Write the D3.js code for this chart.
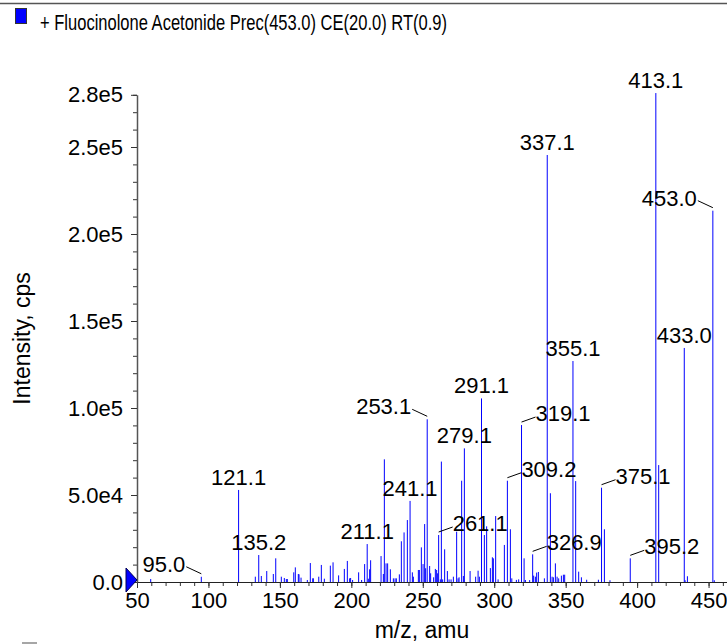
<!DOCTYPE html>
<html>
<head>
<meta charset="utf-8">
<script src="https://cdn.jsdelivr.net/npm/d3@7"></script>
<style>
	body { margin: 0; background: #fff; }
	text { font-family: "Liberation Sans", Arial, sans-serif; fill: #000; }
	.tick text { font-size: 22px; }
	.peaklabel { font-size: 22px; }
	.charttitle { font-size: 22px; }
	.axistitle { font-size: 23px; }
	.leader { stroke: #000; stroke-width: 1; fill: none; }
	.peak { stroke: #0000ff; stroke-width: 1; }
</style>
</head>
<body>
<svg class="spectrum"></svg>
<script>
// Spectrum peaks (m/z, intensity in cps)
var peakMz = [59.6, 95.0, 121.1, 132.8, 135.2, 137.0, 140.8, 145.4, 147.1, 151.0,
	153.1, 154.5, 155.2, 159.7, 160.8, 162.9, 163.4, 164.8, 169.2, 171.3,
	173.0, 173.4, 177.2, 179.0, 181.1, 185.3, 187.2, 191.1, 195.1, 197.2,
	198.8, 199.5, 200.9, 205.1, 207.2, 209.3, 211.1, 211.9, 212.8, 213.5,
	220.8, 222.4, 223.1, 224.3, 225.4, 227.3, 229.4, 230.6, 231.5, 233.6,
	235.0, 236.9, 239.2, 241.1, 242.7, 243.4, 246.9, 247.6, 249.0, 250.2,
	251.3, 252.0, 253.1, 254.8, 255.5, 257.6, 258.8, 259.7, 260.4, 261.1,
	262.3, 263.0, 263.9, 265.3, 267.2, 268.4, 269.8, 271.4, 273.7, 274.7,
	275.4, 277.2, 278.4, 279.1, 283.1, 287.0, 288.7, 289.6, 291.1, 293.1,
	294.7, 297.3, 298.7, 299.4, 301.0, 302.7, 307.1, 309.2, 311.3, 312.3,
	315.5, 317.1, 319.1, 320.9, 321.8, 324.8, 326.9, 327.6, 328.8, 329.7,
	330.9, 335.1, 337.1, 339.3, 340.5, 341.4, 342.8, 344.0, 345.1, 347.0,
	348.4, 349.3, 355.1, 357.0, 359.1, 361.0, 364.7, 372.9, 375.1, 377.1,
	381.0, 395.2, 413.1, 415.1, 433.0, 433.6, 435.2, 453.0, 454.0];
var peakIntensity = [1700, 3000, 52900, 3050, 15500, 3450, 6300, 4600, 13600, 3050,
	2300, 1700, 1700, 5550, 8400, 4600, 4400, 2500, 1150, 10900,
	2100, 2100, 3050, 9800, 1900, 9400, 11300, 3800, 7500, 12100,
	2100, 2300, 1150, 5550, 1150, 10300, 21800, 1900, 7300, 12500,
	14900, 4600, 70500, 10700, 10700, 7300, 2100, 2100, 2100, 4400,
	23400, 28500, 35600, 46600, 5550, 3050, 6900, 6900, 19900, 10300,
	33300, 7900, 93500, 9200, 5000, 2700, 7500, 6900, 5000, 27000,
	1500, 69200, 1500, 18800, 6300, 1500, 1500, 3050, 28900, 2100,
	2700, 58200, 3450, 76800, 6300, 3050, 6500, 3050, 105500, 27000,
	32000, 8000, 14200, 13600, 37900, 1500, 21300, 58200, 30300, 2100,
	1200, 1500, 90200, 13600, 1150, 1100, 15900, 3650, 3050, 5400,
	5750, 2100, 245400, 51000, 3050, 2700, 10700, 3050, 2100, 3650,
	4200, 4200, 127000, 58000, 5950, 2700, 1300, 1300, 54200, 30300,
	1000, 13600, 281000, 67200, 134500, 1000, 3300, 213400, 1000];

// Annotated peaks; side: 0 = centred above, -1 = label left with leader, 1 = label right with leader
var labelMz = [95.0, 121.1, 135.2, 211.1, 241.1, 253.1, 261.1, 279.1, 291.1, 309.2,
	319.1, 326.9, 337.1, 355.1, 375.1, 395.2, 413.1, 433.0, 453.0];
var labelSide = [-1, 0, 0, 0, 0, -1, 1, 0, 0, 1,
	1, 1, 0, 0, 1, 1, 0, 0, -1];

var xTicks = [50, 100, 150, 200, 250, 300, 350, 400, 450];
var yTicks = [0, 50000, 100000, 150000, 200000, 250000, 280000];
var yTickLabels = ["0.0", "5.0e4", "1.0e5", "1.5e5", "2.0e5", "2.5e5", "2.8e5"];

var titleText = "+ Fluocinolone Acetonide Prec(453.0) CE(20.0) RT(0.9)";

function drawSpectrum() {
	var totalWidth = 727, totalHeight = 644;
	var left = 137, right = 727, top = 94.8, bottom = 582;

	var svg = d3.select(".spectrum")
		.attr("width", totalWidth)
		.attr("height", totalHeight);

	var x = d3.scaleLinear()
		.domain([50, 462.9])
		.range([left, right]);

	var y = d3.scaleLinear()
		.domain([0, 280000])
		.range([bottom, top]);

	// top frame line
	svg.append("line")
		.attr("x1", 0).attr("x2", totalWidth)
		.attr("y1", 3.5).attr("y2", 3.5)
		.attr("stroke", "#555").attr("stroke-width", 1.5);

	// legend square + title (narrow face, squeezed to the reference width)
	svg.append("rect")
		.attr("x", 15.5).attr("y", 8.5)
		.attr("width", 11).attr("height", 15)
		.attr("fill", "#0000ff").attr("stroke", "#333");
	svg.append("text")
		.attr("class", "charttitle")
		.attr("x", 40).attr("y", 30)
		.attr("textLength", 407)
		.attr("lengthAdjust", "spacingAndGlyphs")
		.text(titleText);

	// cut-off legend square at bottom
	svg.append("line")
		.attr("x1", 22).attr("x2", 37)
		.attr("y1", 643).attr("y2", 643)
		.attr("stroke", "#888").attr("stroke-width", 1.5);

	// minor ticks
	var xMinor = d3.range(50, 461, 10);
	var yMinor = d3.range(0, 280001, 10000);

	svg.append("g")
		.attr("class", "x minor")
		.attr("transform", "translate(0," + bottom + ")")
		.call(d3.axisBottom(x).tickValues(xMinor).tickSize(4).tickFormat(""))
		.call(function(g) { g.select(".domain").remove(); });

	svg.append("g")
		.attr("class", "y minor")
		.attr("transform", "translate(" + left + ",0)")
		.call(d3.axisLeft(y).tickValues(yMinor).tickSize(4).tickFormat(""))
		.call(function(g) { g.select(".domain").remove(); });

	// Add the x axis
	svg.append("g")
		.attr("class", "x axis")
		.attr("transform", "translate(0," + bottom + ")")
		.call(d3.axisBottom(x).tickValues(xTicks).tickSize(6).tickPadding(4).tickSizeOuter(0));

	// Add the y axis
	var yAxis = svg.append("g")
		.attr("class", "y axis")
		.attr("transform", "translate(" + left + ",0)")
		.call(d3.axisLeft(y).tickValues(yTicks).tickSize(6).tickPadding(8).tickSizeOuter(0)
			.tickFormat(function(d, i) { return yTickLabels[i]; }));

	svg.selectAll(".axis .domain").attr("stroke", "#222");
	svg.selectAll(".tick line").attr("stroke", "#333");
	yAxis.select(".domain").attr("stroke", "#555").attr("stroke-width", 1.5);

	// Axis titles
	svg.append("text")
		.attr("class", "axistitle")
		.attr("transform", "rotate(-90)")
		.attr("x", -(top + bottom) / 2)
		.attr("y", 30)
		.attr("text-anchor", "middle")
		.text("Intensity, cps");

	svg.append("text")
		.attr("class", "axistitle")
		.attr("x", 422)
		.attr("y", 638)
		.attr("text-anchor", "middle")
		.text("m/z, amu");

	// Draw peaks
	var peaks = peakMz.map(function(m, i) { return {mz: m, value: peakIntensity[i]}; });
	svg.selectAll(".peak")
		.data(peaks)
	  .enter().append("line")
		.attr("class", "peak")
		.attr("x1", function(d) { return x(d.mz); })
		.attr("x2", function(d) { return x(d.mz); })
		.attr("y1", y(0))
		.attr("y2", function(d) { return y(d.value); });

	// Peak labels
	labelMz.forEach(function(m, i) {
		var idx = peakMz.indexOf(m);
		var px = x(m), py = y(peakIntensity[idx]);
		var side = labelSide[i];
		var txt = m.toFixed(1);
		if (side === 0) {
			svg.append("text").attr("class", "peaklabel")
				.attr("x", px).attr("y", py - 5)
				.attr("text-anchor", "middle").text(txt);
		} else if (side < 0) {
			svg.append("line").attr("class", "leader")
				.attr("x1", px - 15).attr("y1", py - 10)
				.attr("x2", px).attr("y2", py - 3);
			svg.append("text").attr("class", "peaklabel")
				.attr("x", px - 16).attr("y", py - 5)
				.attr("text-anchor", "end").text(txt);
		} else {
			svg.append("line").attr("class", "leader")
				.attr("x1", px).attr("y1", py - 3)
				.attr("x2", px + 14).attr("y2", py - 8);
			svg.append("text").attr("class", "peaklabel")
				.attr("x", px + 14).attr("y", py - 4)
				.attr("text-anchor", "start").text(txt);
		}
	});

	// origin marker
	svg.append("path")
		.attr("d", d3.line()([[126, 568], [126, 592], [137, 580]]) + "Z")
		.attr("fill", "#0000ff")
		.attr("stroke", "#000055");
}

drawSpectrum();
</script>
</body>
</html>
